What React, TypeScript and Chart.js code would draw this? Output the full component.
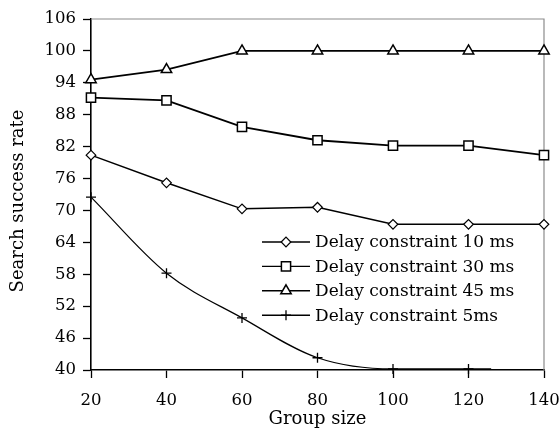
import React, { useEffect, useRef } from "react";
import { Chart, registerables } from "chart.js";
import { drawPoint } from "chart.js/helpers";

Chart.register(...registerables);

// ---- data ----
const groupSizes = [20, 40, 60, 80, 100, 120, 140];
const delay10 = [80.4, 75.2, 70.3, 70.6, 67.4, 67.4, 67.4];
const delay30 = [91.2, 90.7, 85.7, 83.2, 82.2, 82.2, 80.4];
const delay45 = [94.6, 96.5, 100, 100, 100, 100, 100];
const delay5X = [20, 40, 60, 80, 100, 120, 126];
const delay5 = [72.5, 58.2, 49.8, 42.3, 40.2, 40.2, 40.2];
const yTickValues = [40, 46, 52, 58, 64, 70, 76, 82, 88, 94, 100, 106];
const xTickValues = [20, 40, 60, 80, 100, 120, 140];
const seriesLabels = [
  "Delay constraint 10 ms",
  "Delay constraint 30 ms",
  "Delay constraint 45 ms",
  "Delay constraint 5ms",
];
const xTitle = "Group size";
const yTitle = "Search success rate";

const FONT = "'DejaVu Serif', 'Liberation Serif', serif";
const TICK_FS = 16.5;
const TITLE_FS = 18;
const LEGEND_FS = 17;

const framePlugin = {
  id: "frame",
  beforeDatasetsDraw(chart: any) {
    const { ctx, chartArea } = chart;
    ctx.save();
    ctx.strokeStyle = "#8c8c8c";
    ctx.lineWidth = 1.2;
    ctx.beginPath();
    ctx.moveTo(chartArea.left, chartArea.top);
    ctx.lineTo(chartArea.right, chartArea.top);
    ctx.lineTo(chartArea.right, chartArea.bottom);
    ctx.stroke();
    ctx.restore();
  },
};

const yTitlePlugin = {
  id: "yTitle",
  afterDraw(chart: any) {
    const { ctx } = chart;
    ctx.save();
    ctx.translate(18, 201);
    ctx.rotate(-Math.PI / 2);
    ctx.fillStyle = "#000";
    ctx.font = `${TITLE_FS}px ${FONT}`;
    ctx.textAlign = "center";
    ctx.textBaseline = "middle";
    ctx.fillText(yTitle, 0, 0);
    ctx.restore();
  },
};

const legendPlugin = {
  id: "customLegend",
  afterDatasetsDraw(chart: any) {
    const { ctx } = chart;
    const x0 = 262;
    const x1 = 310;
    const tx = 315;
    const y0 = 242;
    const dy = 24.4;
    ctx.save();
    chart.data.datasets.forEach((ds: any, i: number) => {
      const y = y0 + i * dy;
      ctx.strokeStyle = "#000";
      ctx.lineWidth = 1.4;
      ctx.beginPath();
      ctx.moveTo(x0, y);
      ctx.lineTo(x1, y);
      ctx.stroke();
      ctx.fillStyle = "#fff";
      ctx.strokeStyle = "#000";
      ctx.lineWidth = ds.pointBorderWidth;
      const r = Array.isArray(ds.pointRadius) ? ds.pointRadius[0] : ds.pointRadius;
      drawPoint(ctx, { pointStyle: ds.pointStyle, rotation: 0, radius: r, borderWidth: ds.pointBorderWidth }, (x0 + x1) / 2, y);
      ctx.fillStyle = "#000";
      ctx.font = `${LEGEND_FS}px ${FONT}`;
      ctx.textAlign = "left";
      ctx.textBaseline = "middle";
      ctx.fillText(ds.label, tx, y + 1);
    });
    ctx.restore();
  },
};

export default function App() {
  const ref = useRef<HTMLCanvasElement>(null);
  useEffect(() => {
    const common = {
      borderColor: "#000",
      pointBackgroundColor: "#fff",
      pointBorderColor: "#000",
      fill: false,
      clip: false as any,
    };
    const chart = new Chart(ref.current!, {
      type: "line",
      data: {
        datasets: [
          {
            ...common,
            label: seriesLabels[0],
            data: groupSizes.map((x, i) => ({ x, y: delay10[i] })),
            borderWidth: 1.5,
            pointStyle: "rectRot",
            pointRadius: 4.8,
            pointBorderWidth: 1.2,
          },
          {
            ...common,
            label: seriesLabels[1],
            data: groupSizes.map((x, i) => ({ x, y: delay30[i] })),
            borderWidth: 1.8,
            pointStyle: "rect",
            pointRadius: 6.5,
            pointBorderWidth: 1.5,
          },
          {
            ...common,
            label: seriesLabels[2],
            data: groupSizes.map((x, i) => ({ x, y: delay45[i] })),
            borderWidth: 1.8,
            pointStyle: "triangle",
            pointRadius: 6,
            pointBorderWidth: 1.5,
          },
          {
            ...common,
            label: seriesLabels[3],
            data: delay5X.map((x, i) => ({ x, y: delay5[i] })),
            borderWidth: 1.2,
            pointStyle: "cross",
            pointRadius: delay5X.map((_, i) => (i === delay5X.length - 1 ? 0 : 5)),
            pointBorderWidth: 1.3,
            cubicInterpolationMode: "monotone",
          } as any,
        ],
      },
      options: {
        animation: false,
        responsive: false,
        maintainAspectRatio: false,
        layout: { padding: { left: 0, right: 16, top: 19, bottom: 0 } },
        plugins: { legend: { display: false }, tooltip: { enabled: false } },
        scales: {
          x: {
            type: "linear",
            min: 20,
            max: 140,
            afterBuildTicks: (s: any) => {
              s.ticks = xTickValues.map((v) => ({ value: v }));
            },
            afterFit: (s: any) => {
              s.height = 60;
              s.paddingLeft = 0;
              s.paddingRight = 0;
            },
            grid: {
              drawOnChartArea: false,
              drawTicks: true,
              tickLength: 8,
              color: "#000",
              tickWidth: 1.3,
            },
            border: { color: "#000", width: 1.6 },
            ticks: {
              color: "#000",
              font: { family: FONT, size: TICK_FS },
              padding: 13,
              maxRotation: 0,
              autoSkip: false,
            },
            title: {
              display: true,
              text: xTitle,
              color: "#000",
              font: { family: FONT, size: TITLE_FS },
              padding: { top: 0, bottom: 0 },
            },
          },
          y: {
            type: "linear",
            min: 40,
            max: 106,
            afterBuildTicks: (s: any) => {
              s.ticks = yTickValues.map((v) => ({ value: v }));
            },
            afterFit: (s: any) => {
              s.width = 91;
              s.paddingTop = 0;
              s.paddingBottom = 0;
            },
            grid: {
              drawOnChartArea: false,
              drawTicks: true,
              tickLength: 8,
              color: "#000",
              tickWidth: 1.3,
            },
            border: { color: "#000", width: 1.6 },
            ticks: {
              color: "#000",
              font: { family: FONT, size: TICK_FS },
              padding: 7,
              autoSkip: false,
            },
            title: { display: false },
          },
        },
      },
      plugins: [framePlugin, legendPlugin, yTitlePlugin],
    });
    return () => chart.destroy();
  }, []);
  return (
    <div style={{ position: "fixed", left: 0, top: 0, width: 560, height: 430, background: "#fff" }}>
      <canvas ref={ref} width={560} height={430} style={{ display: "block", width: 560, height: 430 }} />
    </div>
  );
}
